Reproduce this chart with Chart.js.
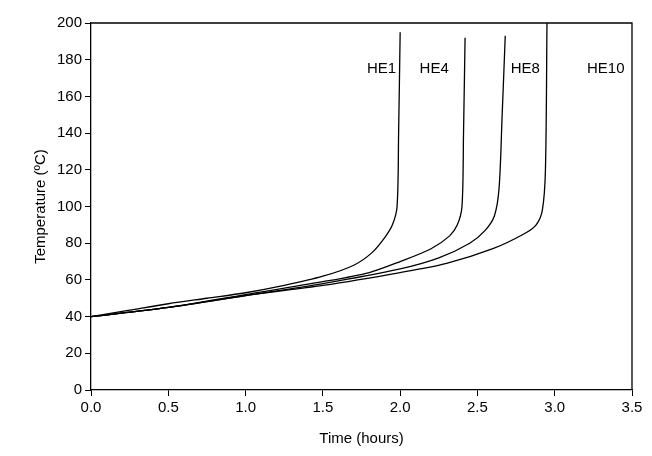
<!DOCTYPE html>
<html><head><script src="https://cdn.jsdelivr.net/npm/chart.js@4"></script>
<style>body{margin:0;background:#fff}#w{width:652px;height:456px}</style></head>
<body><div id="w"><canvas id="c"></canvas></div>
<script>
const he1=[[0,40],[0.25,43.5],[0.5,47],[0.75,50],[1,53],[1.25,57],[1.5,62],[1.7,68],[1.82,75],[1.9,83],[1.95,90],[1.98,100],[1.99,140],[2.0,195]];
const he4=[[0,40],[0.5,45],[1,52],[1.5,59],[1.8,64],[2,70],[2.2,77],[2.32,84],[2.37,90],[2.40,100],[2.41,140],[2.42,192]];
const he8=[[0,40],[0.5,45],[1,51.5],[1.5,58],[2,66],[2.25,72],[2.45,80],[2.55,87],[2.61,95],[2.64,110],[2.66,150],[2.68,193]];
const he10=[[0,40],[0.5,45],[1,51.5],[1.5,57],[2,64],[2.3,69],[2.6,77],[2.8,85],[2.88,90],[2.92,98],[2.94,120],[2.95,200]];
const labels=[["HE1",1.88,175],["HE4",2.22,175],["HE8",2.81,175],["HE10",3.33,175]];
const mk=d=>({data:d.map(p=>({x:p[0],y:p[1]})),borderColor:'#000',borderWidth:1.3,pointRadius:0,tension:0.3,fill:false});
new Chart(document.getElementById('c'),{type:'line',
data:{datasets:[mk(he1),mk(he4),mk(he8),mk(he10)]},
options:{responsive:true,maintainAspectRatio:false,animation:false,
layout:{padding:{top:23,right:20,left:28,bottom:4}},
plugins:{legend:{display:false},tooltip:{enabled:false}},
scales:{
x:{type:'linear',min:0,max:3.5,border:{color:'#000',width:1.3},grid:{drawOnChartArea:false,color:'#000',tickLength:6},
ticks:{stepSize:0.5,color:'#000',font:{family:'Liberation Sans',size:15},callback:v=>v.toFixed(1)},
title:{display:true,text:'Time (hours)',color:'#000',font:{family:'Liberation Sans',size:15},padding:{top:10}}},
y:{min:0,max:200,border:{color:'#000',width:1.3},grid:{drawOnChartArea:false,color:'#000',tickLength:6},
ticks:{stepSize:20,color:'#000',font:{family:'Liberation Sans',size:15}},
title:{display:true,text:'Temperature (\u00BAC)',color:'#000',font:{family:'Liberation Sans',size:15}}}}},
plugins:[{id:'lab',afterDatasetsDraw(ch){const c=ch.ctx,x=ch.scales.x,y=ch.scales.y,a=ch.chartArea;
c.save();c.strokeStyle='#000';c.lineWidth=1.3;c.beginPath();c.moveTo(a.left,a.top);c.lineTo(a.right,a.top);c.lineTo(a.right,a.bottom);c.stroke();
c.fillStyle='#000';c.font='15px Liberation Sans';c.textAlign='center';c.textBaseline='middle';
labels.forEach(l=>c.fillText(l[0],x.getPixelForValue(l[1]),y.getPixelForValue(l[2])));c.restore();}}]
});
</script></body></html>
